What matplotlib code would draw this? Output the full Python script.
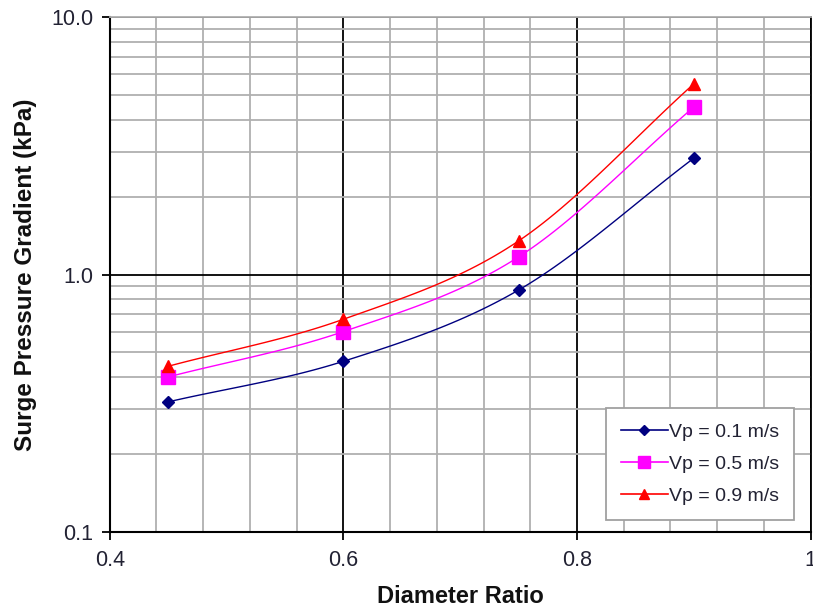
import numpy as np
import matplotlib.pyplot as plt
from matplotlib.ticker import FixedLocator, NullFormatter, FixedFormatter

plt.rcParams['font.family'] = ['Liberation Sans', 'DejaVu Sans']

# data
diameter_ratio = [0.45, 0.60, 0.75, 0.90]
vp_01 = [0.32, 0.46, 0.87, 2.83]
vp_05 = [0.40, 0.60, 1.17, 4.47]
vp_09 = [0.44, 0.67, 1.35, 5.50]

series = [
    ("Vp = 0.1 m/s", vp_01, "#000080", "D", 6),
    ("Vp = 0.5 m/s", vp_05, "#ff00ff", "s", 9.5),
    ("Vp = 0.9 m/s", vp_09, "#ff0000", "^", 9),
]


def smooth(x, y, n=30):
    # Catmull-Rom through the points, in (x, log y) like Excel smoothed lines
    x = np.asarray(x, float)
    ly = np.log10(np.asarray(y, float))
    px = np.concatenate([[2 * x[0] - x[1]], x, [2 * x[-1] - x[-2]]])
    py = np.concatenate([[2 * ly[0] - ly[1]], ly, [2 * ly[-1] - ly[-2]]])
    xs, ys = [], []
    t = np.linspace(0, 1, n)
    for i in range(1, len(px) - 2):
        for P, out in ((px, xs), (py, ys)):
            p0, p1, p2, p3 = P[i - 1], P[i], P[i + 1], P[i + 2]
            out.extend(0.5 * (2 * p1 + (-p0 + p2) * t
                              + (2 * p0 - 5 * p1 + 4 * p2 - p3) * t ** 2
                              + (-p0 + 3 * p1 - 3 * p2 + p3) * t ** 3))
    return np.array(xs), 10 ** np.array(ys)


fig = plt.figure(figsize=(8.13, 6.10), dpi=100)
ax = fig.add_axes([0.135, 0.128, 0.862, 0.844])
ax.set_yscale('log')
ax.set_xlim(0.4, 1.0)
ax.set_ylim(0.1, 10)

# grid
ax.xaxis.set_major_locator(FixedLocator([0.4, 0.6, 0.8, 1.0]))
ax.xaxis.set_major_formatter(FixedFormatter(["0.4", "0.6", "0.8", "1"]))
ax.xaxis.set_minor_locator(FixedLocator(np.arange(0.44, 1.0, 0.04)))
ax.yaxis.set_major_locator(FixedLocator([0.1, 1.0, 10.0]))
ax.yaxis.set_major_formatter(FixedFormatter(["0.1", "1.0", "10.0"]))
minor_y = [m * d for d in (0.1, 1.0) for m in range(2, 10)]
ax.yaxis.set_minor_locator(FixedLocator(minor_y))
ax.yaxis.set_minor_formatter(NullFormatter())

ax.grid(which='major', color='black', linewidth=1.3, zorder=1)
ax.grid(which='minor', color='#b0b0b0', linewidth=1.3, zorder=0)
ax.set_axisbelow(True)

ax.tick_params(which='major', direction='out', length=6, width=1.3,
               labelsize=15.5, labelcolor='#222233')
ax.tick_params(axis='x', pad=7)
ax.tick_params(axis='y', pad=6)
ax.tick_params(which='minor', length=0)

for side in ('left', 'bottom'):
    ax.spines[side].set_linewidth(1.5)
ax.spines['top'].set_color('#b0b0b0')
ax.spines['top'].set_linewidth(1.3)
ax.spines['right'].set_linewidth(1.3)

for label, vals, color, marker, ms in series:
    sx, sy = smooth(diameter_ratio, vals)
    ax.plot(sx, sy, color=color, linewidth=1.0, zorder=3)
    ax.plot(diameter_ratio, vals, linestyle='none', marker=marker,
            markersize=ms, color=color, zorder=4)
    ax.plot([], [], color=color, linewidth=1.2, marker=marker,
            markersize=ms * 0.85, label=label)

leg = ax.legend(loc='lower right', bbox_to_anchor=(0.977, 0.023),
                borderaxespad=0, fontsize=14, frameon=True, fancybox=False,
                edgecolor='#a0a0a0', framealpha=1, handlelength=2.4,
                handletextpad=0.05, labelspacing=0.72, borderpad=0.8)
leg.get_frame().set_linewidth(1.3)
for txt in leg.get_texts():
    txt.set_color('#222233')

ax.set_xlabel("Diameter Ratio", fontsize=17, fontweight='bold',
              color='#111111', labelpad=10)
ax.set_ylabel("Surge Pressure Gradient (kPa)", fontsize=17.5,
              fontweight='bold', color='#111111', labelpad=10)

fig.savefig("out.png", dpi=100)
